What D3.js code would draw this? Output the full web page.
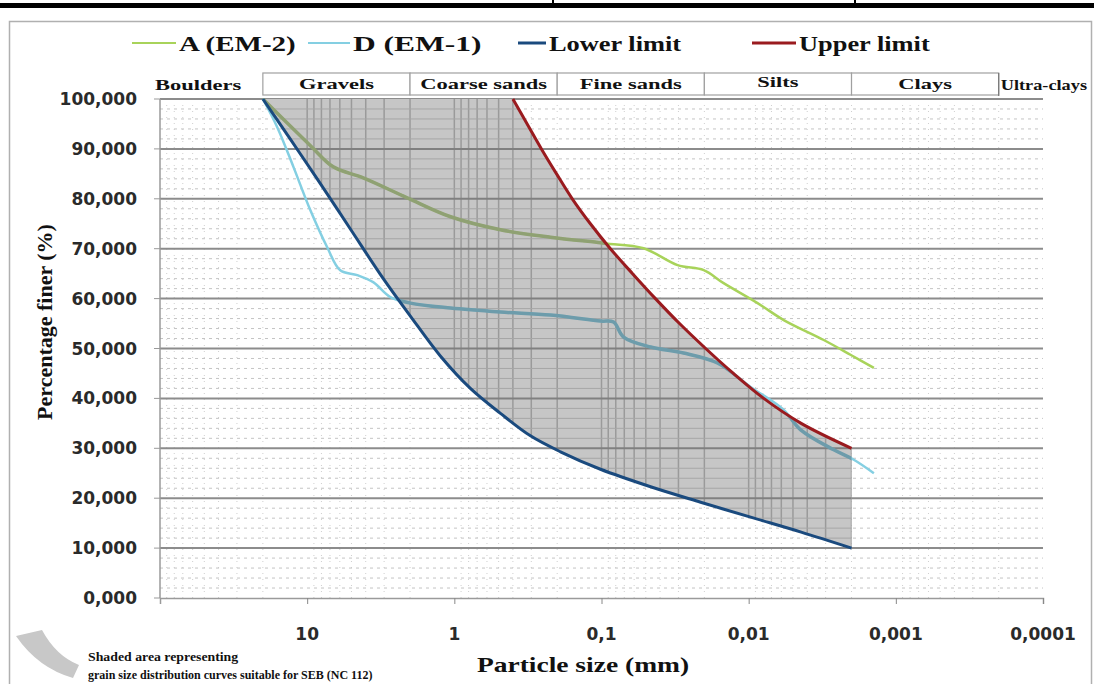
<!DOCTYPE html>
<html>
<head>
<meta charset="utf-8">
<script src="https://cdn.jsdelivr.net/npm/d3@7"></script>
<style>
  body { margin: 0; background: #fff; }
  svg { display: block; }
</style>
</head>
<body>
<div id="chart"></div>
<script>
// grain size curves: particle size (mm) vs percentage finer (%)
var lowerSize = [20, 13.05, 8.55, 5.1, 3.04, 1.99, 1.245, 0.778, 0.486, 0.304, 0.19, 0.1016, 0.0464, 0.0212, 0.0097, 0.0044, 0.002];
var lowerPct  = [100, 92, 84, 74, 64, 56.5, 48.5, 42, 37, 32.5, 29.3, 25.8, 22.3, 19.2, 16.2, 13.2, 10];

var upperSize = [0.4, 0.32, 0.256, 0.202, 0.158, 0.119, 0.087, 0.0615, 0.043, 0.0295, 0.0196, 0.0127, 0.0079, 0.0044, 0.002];
var upperPct  = [100, 95, 90, 85, 80, 75, 70, 65, 60, 55, 50, 45, 40, 35, 30];

var aSize = [20, 9.54, 6.65, 4.16, 2.09, 1.06, 0.486, 0.222, 0.1016, 0.09, 0.0518, 0.0304, 0.0202, 0.0148, 0.0087, 0.00578, 0.00309, 0.00202, 0.00141];
var aPct  = [100, 90.7, 86.4, 84.2, 80.2, 76.4, 73.8, 72.3, 71.2, 71, 70.1, 66.7, 65.7, 63.1, 59.1, 55.7, 51.7, 48.7, 46.1];

var dSize = [20, 16, 12.4, 9.54, 7.31, 5.96, 4.57, 3.56, 2.72, 1.99, 1.06, 0.486, 0.222, 0.1016, 0.0828, 0.0708, 0.0464, 0.0277, 0.0163, 0.0097, 0.00578, 0.00443, 0.00264, 0.00193, 0.00141];
var dPct  = [100, 94.4, 86.4, 77.8, 70.3, 65.7, 64.7, 63.3, 60.3, 59.1, 58.1, 57.3, 56.7, 55.5, 55.3, 52.3, 50.3, 49.1, 47.1, 42.3, 37.7, 33.7, 29.7, 27.7, 25];

var classNames  = ["Boulders", "Gravels", "Coarse sands", "Fine sands", "Silts", "Clays", "Ultra-clays"];
var classBounds = [200, 20, 2, 0.2, 0.02, 0.002, 0.0002, 0.00002];

var xTicks = [10, 1, 0.1, 0.01, 0.001, 0.0001];
var yTicks = [0, 10, 20, 30, 40, 50, 60, 70, 80, 90, 100];

var legendNames = ["A (EM-2)", "D (EM-1)", "Lower limit", "Upper limit"];

var W = 1094, H = 684;
var pLeft = 160, pRight = 1043, pTop = 99, pBottom = 598;

var svg = d3.select('#chart').append('svg')
    .attr('width', W)
    .attr('height', H);

var x = d3.scaleLog().domain([100, 0.0001]).range([pLeft, pRight]);
var y = d3.scaleLinear().domain([0, 100]).range([pBottom, pTop]);

var fr = d3.formatLocale({ decimal: ",", thousands: " ", grouping: [3], currency: ["", ""] });
var fmtY = fr.format(".3f");
var fmtX = fr.format("~g");

function pts(s, p) { return s.map(function (d, i) { return [d, p[i]]; }); }
var line = d3.line().x(function (d) { return x(d[0]); }).y(function (d) { return y(d[1]); })
    .curve(d3.curveCatmullRom.alpha(0.5));

// serif text stretched sideways like the scanned original
function wideText(parent, tx, ty, sx, size, str, anchor) {
    return parent.append('text')
        .attr('transform', 'translate(' + tx + ',' + ty + ') scale(' + sx + ',1)')
        .attr('text-anchor', anchor || 'start')
        .style('font-family', 'Liberation Serif').style('font-weight', 'bold')
        .style('font-size', size + 'px').attr('fill', '#111')
        .text(str);
}

// page frame bits
svg.append('rect').attr('x', 0).attr('y', 3).attr('width', W).attr('height', 5).attr('fill', '#000');
[553, 855].forEach(function (px) {
    svg.append('line').attr('x1', px).attr('x2', px).attr('y1', 0).attr('y2', 5)
        .attr('stroke', '#000').attr('stroke-width', 2);
});
svg.append('rect').attr('x', 9.5).attr('y', 21.5).attr('width', 1082).attr('height', 700)
    .attr('fill', 'none').attr('stroke', '#b0b0b0').attr('stroke-width', 1.5);

// minor grid (dotted)
var minorX = [];
[100, 10, 1, 0.1, 0.01, 0.001].forEach(function (dec) {
    for (var k = 2; k <= 9; k++) minorX.push(dec / 10 * k);
});
var g = svg.append('g');
g.selectAll('.vminor').data(minorX).enter().append('line')
    .attr('x1', function (d) { return x(d); }).attr('x2', function (d) { return x(d); })
    .attr('y1', pTop).attr('y2', pBottom)
    .attr('stroke', '#cfcfcf').attr('stroke-width', 1).attr('stroke-dasharray', '1,5');
var minorY = d3.range(2, 100, 2).filter(function (v) { return v % 10 !== 0; });
g.selectAll('.hminor').data(minorY).enter().append('line')
    .attr('x1', pLeft).attr('x2', pRight)
    .attr('y1', function (d) { return y(d); }).attr('y2', function (d) { return y(d); })
    .attr('stroke', '#c4c4c4').attr('stroke-width', 1).attr('stroke-dasharray', '3,4');
g.selectAll('.hmajor').data(yTicks.filter(function (v) { return v > 0; })).enter().append('line')
    .attr('x1', pLeft).attr('x2', pRight)
    .attr('y1', function (d) { return y(d); }).attr('y2', function (d) { return y(d); })
    .attr('stroke', '#8c8c8c').attr('stroke-width', 2);

// shaded envelope between lower and upper limit
var envPath = line(pts(lowerSize, lowerPct)) + 'L' +
    line(pts(upperSize, upperPct).reverse()).slice(1) + 'Z';
svg.append('clipPath').attr('id', 'env').append('path').attr('d', envPath);
svg.append('path').attr('d', envPath).attr('fill', '#c6c6c6');
var sg = svg.append('g').attr('clip-path', 'url(#env)');
sg.selectAll('.sv').data(minorX.concat([10, 1, 0.1, 0.01])).enter().append('line')
    .attr('x1', function (d) { return x(d); }).attr('x2', function (d) { return x(d); })
    .attr('y1', pTop).attr('y2', pBottom)
    .attr('stroke', '#9a9a9a').attr('stroke-width', 1.5);
sg.selectAll('.sh').data(d3.range(2, 100, 2)).enter().append('line')
    .attr('x1', pLeft).attr('x2', pRight)
    .attr('y1', function (d) { return y(d); }).attr('y2', function (d) { return y(d); })
    .attr('stroke', function (d) { return d % 10 === 0 ? '#808080' : '#a6a6a6'; })
    .attr('stroke-width', function (d) { return d % 10 === 0 ? 2 : 1; });

// axes
svg.append('line').attr('x1', pLeft).attr('x2', pLeft).attr('y1', pTop).attr('y2', pBottom)
    .attr('stroke', '#9a9a9a').attr('stroke-width', 1.5);
svg.append('g').attr('transform', 'translate(0,' + pBottom + ')')
    .call(d3.axisBottom(x).tickValues(xTicks).tickSize(6).tickFormat(''))
    .call(function (a) {
        a.select('.domain').attr('stroke', '#9a9a9a').attr('stroke-width', 1.5);
        a.selectAll('.tick line').attr('stroke', '#888');
    });
svg.selectAll('.xl').data(xTicks).enter().append('text')
    .attr('x', function (d) { return x(d); }).attr('y', 640)
    .attr('text-anchor', 'middle')
    .style('font-family', 'DejaVu Sans').style('font-weight', 'bold').style('font-size', '17px')
    .attr('fill', '#2a2a2a')
    .text(function (d) { return fmtX(d); });
svg.selectAll('.yt').data(yTicks).enter().append('line')
    .attr('x1', pLeft - 6).attr('x2', pLeft)
    .attr('y1', function (d) { return y(d); }).attr('y2', function (d) { return y(d); })
    .attr('stroke', '#999');
svg.selectAll('.yl').data(yTicks).enter().append('text')
    .attr('x', 137).attr('y', function (d) { return y(d) + 6; })
    .attr('text-anchor', 'end')
    .style('font-family', 'DejaVu Sans').style('font-weight', 'bold').style('font-size', '17px')
    .attr('fill', '#2a2a2a')
    .text(function (d) { return fmtY(d); });

// class header
var hdr = svg.append('g');
for (var i = 1; i <= 5; i++) {
    hdr.append('rect').attr('x', x(classBounds[i])).attr('y', 73)
        .attr('width', x(classBounds[i + 1]) - x(classBounds[i])).attr('height', 22)
        .attr('fill', '#fff').attr('stroke', '#a0a0a0').attr('stroke-width', 1.2);
}
hdr.append('line').attr('x1', x(classBounds[6])).attr('x2', x(classBounds[6]))
    .attr('y1', 73).attr('y2', 96).attr('stroke', '#777').attr('stroke-width', 1.2);
classNames.forEach(function (n, i) {
    if (i === 0) wideText(hdr, 155, 90, 1.5, 15, n);
    else if (i === 6) wideText(hdr, x(classBounds[6]) + 2, 90, 1.22, 15, n);
    else wideText(hdr, (x(classBounds[i]) + x(classBounds[i + 1])) / 2, i === 4 ? 87 : 89, 1.5, 15, n, 'middle');
});

// curves
var series = [
    { s: aSize, p: aPct, c: '#a8d35a', inner: '#8fa173', w: 2.5 },
    { s: dSize, p: dPct, c: '#84cfe2', inner: '#6d9cab', w: 2.5 }
];
series.forEach(function (d) {
    svg.append('path').attr('d', line(pts(d.s, d.p))).attr('fill', 'none')
        .attr('stroke', d.c).attr('stroke-width', d.w).attr('stroke-linejoin', 'round');
    svg.append('path').attr('d', line(pts(d.s, d.p))).attr('fill', 'none').attr('clip-path', 'url(#env)')
        .attr('stroke', d.inner).attr('stroke-width', d.w + 1).attr('stroke-linejoin', 'round');
});
svg.append('path').attr('d', line(pts(upperSize, upperPct))).attr('fill', 'none')
    .attr('stroke', '#9a1b1f').attr('stroke-width', 3);
svg.append('path').attr('d', line(pts(lowerSize, lowerPct))).attr('fill', 'none')
    .attr('stroke', '#1a4a7e').attr('stroke-width', 3);

// top legend
var legColors = ['#a8d35a', '#84cfe2', '#1a4a7e', '#9a1b1f'];
var legLine = [[132, 176], [308, 350], [518, 546], [752, 796]];
var legScale = [1.38, 1.5, 1.2, 1.2];
var lg = svg.append('g');
legendNames.forEach(function (n, i) {
    lg.append('line').attr('x1', legLine[i][0]).attr('x2', legLine[i][1]).attr('y1', 43).attr('y2', 43)
        .attr('stroke', legColors[i]).attr('stroke-width', i < 2 ? 2 : 3);
    wideText(lg, legLine[i][1] + 3, 51, legScale[i], i < 2 ? 21 : 22, n);
});

// axis titles
svg.append('text').attr('transform', 'translate(52,322) rotate(-90)')
    .attr('text-anchor', 'middle')
    .style('font-family', 'Liberation Serif').style('font-weight', 'bold').style('font-size', '22px')
    .attr('fill', '#111').text('Percentage finer (%)');
wideText(svg, 583, 672, 1.25, 22, 'Particle size (mm)', 'middle');

// shaded area note
svg.append('path').attr('d', 'M16,636 L42,630 Q56,656 79,665 L73,678 Q38,668 16,636 Z').attr('fill', '#c8c8c8');
var note = svg.append('g');
wideText(note, 88, 661, 1.15, 12, 'Shaded area representing');
wideText(note, 88, 679, 1.0, 12, 'grain size distribution curves suitable for SEB (NC 112)');
</script>
</body>
</html>
